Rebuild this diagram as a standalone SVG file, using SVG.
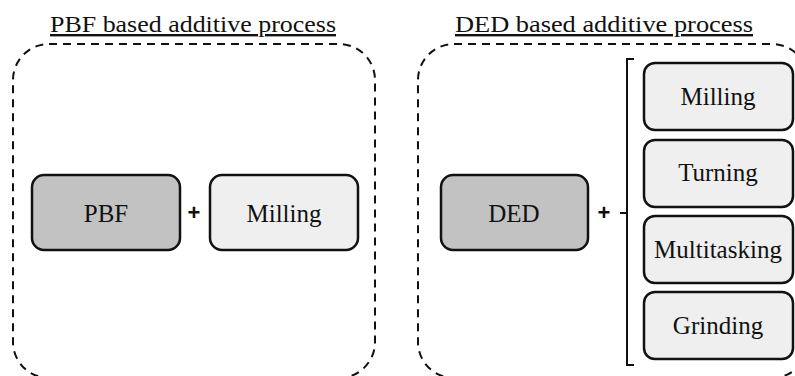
<svg xmlns="http://www.w3.org/2000/svg" width="795" height="376" viewBox="0 0 795 376">
<style>
.title{font-family:"Liberation Serif",serif;font-size:24px;fill:#111;text-decoration:underline}
.lbl{font-family:"Liberation Serif",serif;font-size:25px;fill:#111;text-anchor:middle}
.plus{font-family:"Liberation Sans",sans-serif;font-size:22px;font-weight:bold;fill:#111;text-anchor:middle}
.group{fill:none;stroke:#111;stroke-width:2;stroke-dasharray:8 6}
.dark{fill:#c2c2c2;stroke:#111;stroke-width:2.5}
.light{fill:#efefef;stroke:#111;stroke-width:2.5}
.br{fill:none;stroke:#111;stroke-width:2}
</style>
<rect width="795" height="376" fill="#fff"/>
<g id="pbf-group">
<rect class="group" x="13" y="44" width="362" height="334" rx="36"/>
<text class="title" x="50" y="32" textLength="286" lengthAdjust="spacingAndGlyphs">PBF based additive process</text>
</g>
<g id="ded-group">
<rect class="group" x="418" y="44" width="390" height="334" rx="36"/>
<text class="title" x="455" y="32" textLength="298" lengthAdjust="spacingAndGlyphs">DED based additive process</text>
</g>
<g id="pbf">
<rect class="dark" x="32" y="175" width="148" height="75" rx="12"/>
<text class="lbl" x="106" y="222">PBF</text>
</g>
<g id="milling-left">
<rect class="light" x="210" y="175" width="148" height="75" rx="12"/>
<text class="lbl" x="284" y="222">Milling</text>
</g>
<g id="ded">
<rect class="dark" x="441" y="175" width="147" height="75" rx="12"/>
<text class="lbl" x="514" y="222">DED</text>
</g>
<g id="milling-right">
<rect class="light" x="644" y="63" width="149" height="67" rx="11"/>
<text class="lbl" x="718" y="105">Milling</text>
</g>
<g id="turning">
<rect class="light" x="644" y="140" width="149" height="67" rx="11"/>
<text class="lbl" x="718" y="181">Turning</text>
</g>
<g id="multitasking">
<rect class="light" x="644" y="216" width="149" height="67" rx="11"/>
<text class="lbl" x="718" y="258">Multitasking</text>
</g>
<g id="grinding">
<rect class="light" x="644" y="292" width="149" height="67" rx="11"/>
<text class="lbl" x="718" y="334">Grinding</text>
</g>
<g id="connectors">
<text class="plus" x="194" y="220">+</text>
<text class="plus" x="604" y="220">+</text>
<path class="br" d="M634 59 H627 V365 H634"/>
<path class="br" d="M620 213 H627"/>
</g>
</svg>
